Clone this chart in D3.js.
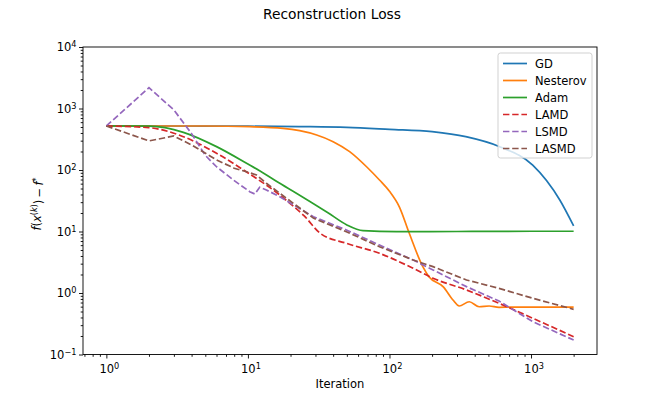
<!DOCTYPE html>
<html>
<head>
<meta charset="utf-8">
<script src="https://cdn.jsdelivr.net/npm/d3@7"></script>
<style>
  body { margin: 0; background: #fff; }
  text { font-family: "DejaVu Sans", sans-serif; fill: #000; }
</style>
</head>
<body>
<svg id="chart" width="664" height="399"></svg>
<script>
// iteration / loss pairs
const gd = [[1,520],[5,518],[10,516],[23,508],[50,494],[100,458],[200,420],[346,348],[601,239],[1028,120],[1597,32.5],[2000,12.3]];
const nesterov = [[1,520],[5,519],[10.3,506],[17.7,476],[23.2,436],[30.6,371],[40,289],[52.3,199],[68.9,113],[85,68.7],[100,45],[117.6,25],[138,9.35],[172,2.68],[190,1.84],[240,1.26],[281,0.769],[311,0.615],[366,0.72],[430,0.598],[506,0.615],[594,0.585],[734,0.59],[1000,0.59],[2000,0.59]];
const adam = [[1,520],[2,516],[3.5,410],[6,240],[10,125],[13,88],[16,65],[22,42],[37,20],[50,12.8],[65,10.3],[112,9.93],[300,10],[1000,10.1],[2000,10.1]];
const lamd = [[1,520],[2,488],[3.5,348],[6,187],[10.3,86],[16.8,39.2],[19.8,28.7],[25,17.9],[32.4,9.35],[49.6,6.43],[85,4.42],[147,2.52],[203,1.74],[350,1.12],[594,0.68],[1030,0.388],[2000,0.195]];
const lsmd = [[1,520],[2,2180],[3,946],[4,390],[5,173],[6,113],[7.9,68.7],[10.3,44.4],[11.2,40.7],[12.1,52.4],[13.5,47.3],[16.8,36.8],[29,17.4],[49.6,10.6],[85,6.03],[147,3.44],[203,2.37],[350,1.27],[594,0.74],[1030,0.341],[2000,0.172]];
const lasmd = [[1,520],[2,297],[3,357],[4,255],[6,146],[8,107],[10.3,90.4],[11.5,83],[13.5,60.8],[16.8,41.8],[29,16.5],[49.6,9.93],[85,5.66],[147,3.44],[203,2.68],[350,1.63],[594,1.19],[1030,0.82],[2000,0.543]];

const names = ["GD","Nesterov","Adam","LAMD","LSMD","LASMD"];
const colors = ["#1f77b4","#ff7f0e","#2ca02c","#d62728","#9467bd","#8c564b"];
const dashed = [false,false,false,true,true,true];
const xTicks = [1,10,100,1000];
const yTicks = [0.1,1,10,100,1000,10000];

const svg = d3.select("#chart");
const L = 83, R = 597, T = 47, B = 354.5;

// matplotlib style 5% margin on log x
let lo = Math.log10(1), hi = Math.log10(2000), m = 0.05*(hi-lo);
const x = d3.scaleLog().domain([10**(lo-m), 10**(hi+m)]).range([L, R]);
const y = d3.scaleLog().domain([0.1, 1e4]).range([B, T]);

svg.append("defs").append("clipPath").attr("id","clip")
  .append("rect").attr("x",L).attr("y",T).attr("width",R-L).attr("height",B-T);

// curves
const series = [gd, nesterov, adam, lamd, lsmd, lasmd];
series.forEach((s,i)=>{
  let line = d3.line()
    .x(d=>x(d[0])).y(d=>y(d[1]))
    .curve(i>=4 ? d3.curveLinear : d3.curveMonotoneX);
  svg.append("path")
    .attr("clip-path","url(#clip)")
    .attr("d", line(s))
    .attr("fill","none")
    .attr("stroke", colors[i])
    .attr("stroke-width",1.7)
    .attr("stroke-dasharray", dashed[i] ? "6.4,2.8" : null);
});

// minor ticks
function minors(scale){
  let out = [], d = scale.domain();
  for(let e=-2;e<=4;e++) for(let k=2;k<=9;k++){
    let v = k*10**e;
    if(v>=d[0] && v<=d[1]) out.push(v);
  }
  return out;
}

const xAxis = svg.append("g").attr("transform",`translate(0,${B})`);
xAxis.call(d3.axisBottom(x).tickValues(xTicks).tickSize(4).tickFormat(""));
xAxis.append("g").call(d3.axisBottom(x).tickValues(minors(x)).tickSize(2.3).tickFormat(""));
const yAxis = svg.append("g").attr("transform",`translate(${L},0)`);
yAxis.call(d3.axisLeft(y).tickValues(yTicks).tickSize(4).tickFormat(""));
yAxis.append("g").call(d3.axisLeft(y).tickValues(minors(y)).tickSize(2.3).tickFormat(""));
svg.selectAll(".domain").remove();
svg.selectAll(".tick line").attr("stroke","#000").attr("stroke-width",0.9);

// spines
svg.append("rect").attr("x",L).attr("y",T).attr("width",R-L).attr("height",B-T)
  .attr("fill","none").attr("stroke","#000").attr("stroke-width",0.9);

function powLabel(sel, v){
  let e = Math.round(Math.log10(v));
  sel.append("tspan").text("10");
  sel.append("tspan").attr("dy","-0.45em").attr("font-size","8.2px")
    .text(e<0 ? "\u2212"+(-e) : e);
}

xTicks.forEach(v=>{
  let t = svg.append("text").attr("x", x(v)+3).attr("y", B+18)
    .attr("text-anchor","middle").attr("font-size","11.5px");
  powLabel(t, v);
});
yTicks.forEach(v=>{
  let t = svg.append("text").attr("x", L-6.5).attr("y", y(v)+4)
    .attr("text-anchor","end").attr("font-size","11.5px");
  powLabel(t, v);
});

// labels
svg.append("text").attr("x",(L+R)/2).attr("y",388)
  .attr("text-anchor","middle").attr("font-size","11.5px").text("Iteration");

const yl = svg.append("text").attr("transform","translate(41,204) rotate(-90)")
  .attr("text-anchor","middle").attr("font-size","11.5px");
yl.append("tspan").attr("font-style","italic").text("f");
yl.append("tspan").text("(");
yl.append("tspan").attr("font-style","italic").text("x");
yl.append("tspan").attr("dy","-0.5em").attr("font-size","8px").text("(");
yl.append("tspan").attr("font-size","8px").attr("font-style","italic").text("k");
yl.append("tspan").attr("font-size","8px").text(")");
yl.append("tspan").attr("dy","0.5em").text(")\u2009\u2212\u2009");
yl.append("tspan").attr("font-style","italic").text("f");
yl.append("tspan").attr("dy","-0.5em").attr("font-size","8px").text("*");

svg.append("text").attr("x",332).attr("y",18.5)
  .attr("text-anchor","middle").attr("font-size","13.8px").text("Reconstruction Loss");

// legend
const lg = svg.append("g");
lg.append("rect").attr("x",498).attr("y",53).attr("width",94).attr("height",105)
  .attr("rx",2.5).attr("fill","#fff").attr("fill-opacity",0.8)
  .attr("stroke","#ccc").attr("stroke-width",0.9);
names.forEach((n,i)=>{
  let cy = 63.5 + i*17;
  lg.append("line").attr("x1",503).attr("x2",527).attr("y1",cy).attr("y2",cy)
    .attr("stroke",colors[i]).attr("stroke-width",1.7)
    .attr("stroke-dasharray", dashed[i] ? "6.4,2.8" : null);
  lg.append("text").attr("x",535).attr("y",cy+4).attr("font-size","11.5px").text(n);
});
</script>
</body>
</html>
